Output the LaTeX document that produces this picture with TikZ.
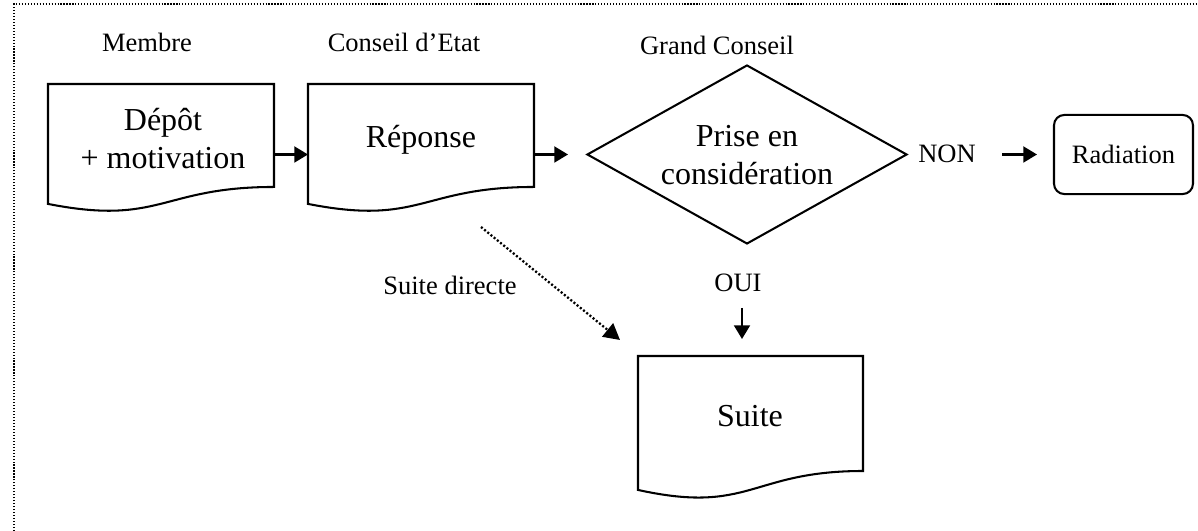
\documentclass[tikz,border=0pt]{standalone}
\usepackage{fontspec}
\setmainfont{Liberation Serif}
\usetikzlibrary{arrows.meta,shapes.geometric,fit,calc}
\newcommand\docpath[1]{%
  \draw[shapeline] (#1.north west) -- (#1.north east)
    -- ($(#1.north east)!0.802!(#1.south east)$)
    .. controls ($(#1.north)!0.802!(#1.south)$) and ($(#1.north)!1.107!(#1.south)$)
    .. ($(#1.north west)!0.934!(#1.south west)$) -- cycle;}
\tikzset{
  shapeline/.style={line width=0.9pt, line join=miter},
  docfit/.style={inner sep=0pt, outer sep=0pt},
  bigtxt/.style={font=\fontsize{14pt}{16.5pt}\selectfont, inner sep=0pt},
  smalltxt/.style={font=\fontsize{11.6pt}{14pt}\selectfont, inner sep=0pt},
  arr/.style={line width=0.9pt, -{Triangle[length=6pt,width=7pt]}},
  dotarr/.style={line width=1pt, dash pattern=on 0.9pt off 0.9pt, -{Triangle[length=7pt,width=7.5pt]}},
  frameline/.style={line width=0.5pt, dash pattern=on 0.5pt off 0.8pt},
}
\begin{document}
\begin{tikzpicture}[x=0.4375pt, y=-0.4375pt]
\useasboundingbox (0,0) rectangle (1198,531);
\fill[white] (0,0) rectangle (1198,531);
% dotted frame (right and bottom edges lie outside)
\draw[frameline] (14,531) -- (14,4) -- (1198,4);

% documents
\node[docfit, fit={(48,84) (274,212.4)}] (d1) {};
\docpath{d1}
\node[docfit, fit={(308,84) (534,212.4)}] (d2) {};
\docpath{d2}
\node[docfit, fit={(638,356) (863,499.4)}] (d3) {};
\docpath{d3}

% decision
\node[diamond, draw, shapeline, minimum width=140pt, minimum height=78.3pt, inner sep=0pt] (dia) at (747,154.5) {};
% terminal
\node[draw, shapeline, rounded corners=4.5pt, minimum width=60.8pt, minimum height=34.6pt, inner sep=0pt, smalltxt] (rad) at (1123.5,154.5) {Radiation};

% texts
\node[smalltxt, anchor=base] (lmembre) at (147,52) {Membre};
\node[smalltxt, anchor=base] (lce) at (404,52) {Conseil d’Etat};
\node[smalltxt, anchor=base] (lgc) at (717,55) {Grand Conseil};
\node[bigtxt, anchor=base] (t1) at (163,131) {\begin{tabular}[t]{@{}c@{}}Dépôt\\+ motivation\end{tabular}};
\node[bigtxt, anchor=base] (t2) at (421,148) {Réponse};
\node[bigtxt, anchor=base] (tdia) at (747,147) {\begin{tabular}[t]{@{}c@{}}Prise en\\considération\end{tabular}};
\node[bigtxt, anchor=base] (t3) at (750,427) {Suite};
\node[smalltxt, anchor=base] (lnon) at (947,163) {NON};
\node[smalltxt, anchor=base] (loui) at (738,292) {OUI};
\node[smalltxt, anchor=base] (lsd) at (450,295) {Suite directe};

% arrow end points
\coordinate (c2) at (568,154.5);
\coordinate (n1) at (1002,154.5);
\coordinate (n2) at (1037,154.5);
\coordinate (o1) at (742,308);
\coordinate (o2) at (742,339);
\coordinate (s1) at (481,227);
\coordinate (s2) at (620,340);

% connectors
\draw[arr] (d1.east |- dia.west) -- (d2.west |- dia.west);
\draw[arr] (d2.east |- dia.west) -- (c2);
\draw[arr] (n1) -- (n2);
\draw[arr] (o1) -- (o2);
\draw[dotarr] (s1) -- (s2);
\end{tikzpicture}
\end{document}
